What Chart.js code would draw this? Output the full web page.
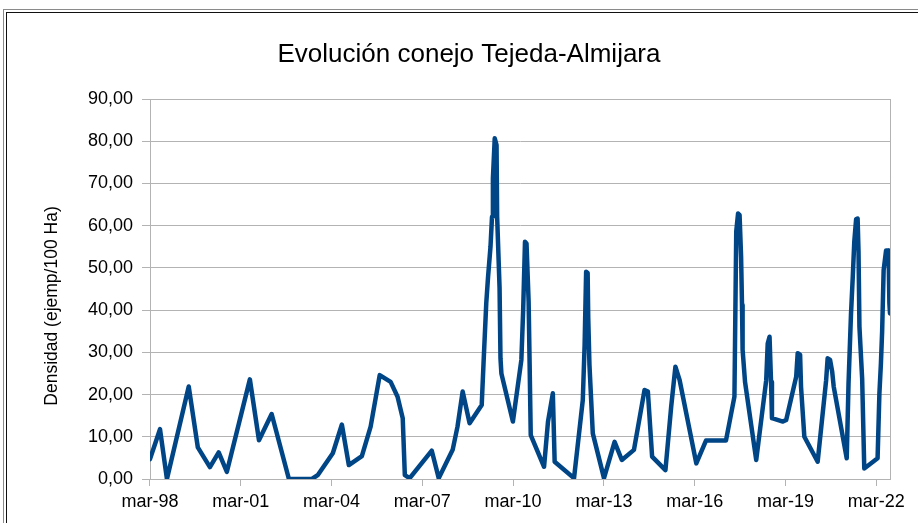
<!DOCTYPE html>
<html><head><meta charset="utf-8">
<script src="https://cdn.jsdelivr.net/npm/chart.js@4.4.1/dist/chart.umd.min.js"></script>
<style>
html,body{margin:0;padding:0;background:#fff;overflow:hidden}
#wrap{position:relative;width:918px;height:523px;overflow:hidden}
canvas{position:absolute;left:0;top:0}
.f1{position:absolute;left:3px;top:9px;width:1000px;height:1000px;border-left:1px solid #8a8a8a;border-top:1px solid #8a8a8a}
.f2{position:absolute;left:6px;top:12px;width:1000px;height:1000px;border-left:1px solid #111;border-top:1px solid #111}
</style></head><body>
<div id="wrap"><div class="f1"></div><div class="f2"></div><canvas id="c" width="918" height="523"></canvas></div>
<script>
const dates = [1998.17,1998.50,1998.73,1999.45,1999.75,2000.15,2000.44,2000.71,2001.47,2001.77,
2002.19,2002.76,2003.52,2003.71,2004.21,2004.51,2004.74,2005.17,2005.46,2005.76,
2006.12,2006.35,2006.52,2006.59,2006.75,2007.48,2007.71,2008.17,2008.33,2008.50,
2008.73,2009.13,2009.19,2009.28,2009.34,2009.42,2009.47,2009.50,2009.56,2009.62,
2009.64,2009.72,2009.75,2009.78,2010.16,2010.44,2010.50,2010.56,2010.61,2010.68,
2010.71,2010.75,2011.19,2011.32,2011.48,2011.54,2012.18,2012.47,2012.53,2012.58,
2012.63,2012.65,2012.69,2012.80,2013.17,2013.52,2013.76,2014.16,2014.51,2014.62,
2014.76,2015.20,2015.39,2015.53,2015.67,2016.22,2016.54,2017.20,2017.48,2017.54,
2017.60,2017.65,2017.70,2017.73,2017.75,2017.83,2018.20,2018.53,2018.58,2018.64,
2018.69,2018.72,2019.08,2019.19,2019.52,2019.57,2019.65,2019.68,2019.79,2020.23,
2020.51,2020.56,2020.64,2020.71,2020.76,2021.19,2021.25,2021.33,2021.39,2021.44,
2021.50,2021.55,2021.58,2021.61,2021.70,2021.77,2022.21,2022.27,2022.32,2022.36,
2022.41,2022.49,2022.56,2022.58,2022.60,2022.62];
const density = [4.7,11.8,0,21.9,7.5,2.8,6.3,1.7,23.6,9.2,
15.4,0,0,0.9,6.1,12.9,3.3,5.4,12.4,24.6,
23.0,19.5,14.4,0.9,0.2,6.7,0.2,6.9,12.4,20.7,
13.2,17.5,27.4,41.6,47.9,55.0,62.1,71.2,80.7,79.1,
62.1,45.2,28.6,25.0,13.6,28.2,40.0,56.2,55.8,42.0,
28.6,10.4,2.9,13.6,20.3,4.1,0.2,18.7,31.7,49.1,
48.8,38.1,27.0,10.8,0.2,8.8,4.5,6.9,21.1,20.7,
5.3,2.1,17.1,26.6,23.4,3.7,9.1,9.1,19.5,58.6,
62.9,62.5,52.6,41.2,30.6,23.0,4.5,23.4,32.1,33.7,
23.0,14.4,13.6,14.0,24.2,29.8,29.4,21.9,10.0,4.1,
23.4,28.6,28.2,25.4,21.9,4.9,22.7,38.8,47.9,56.2,
61.5,61.7,53.8,36.1,23.8,2.5,4.9,20.3,27.4,34.9,
49.5,54.1,54.1,50.3,41.6,39.2];
const xTickPositions = [1998.167,2001.167,2004.167,2007.167,2010.167,2013.167,2016.167,2019.167,2022.167];
const xTickLabels = ['mar-98','mar-01','mar-04','mar-07','mar-10','mar-13','mar-16','mar-19','mar-22'];
const yTickValues = [0,10,20,30,40,50,60,70,80,90];
const titleText = 'Evolución conejo Tejeda-Almijara';
const yTitle = 'Densidad (ejemp/100 Ha)';

const FONT = 'Liberation Sans';
const GRID = '#b3b3b3';

const decor = {
  id: 'decor',
  beforeDatasetsDraw(chart) {
    const {ctx, chartArea: a} = chart;
    ctx.save();
    ctx.strokeStyle = GRID;
    ctx.lineWidth = 1;
    ctx.strokeRect(Math.round(a.left) + 0.5, Math.round(a.top) + 0.5, Math.round(a.right - a.left), Math.round(a.bottom - a.top));
    ctx.restore();
  },
  afterDraw(chart) {
    const {ctx} = chart;
    ctx.save();
    ctx.fillStyle = '#000';
    ctx.font = '26px "' + FONT + '"';
    ctx.textAlign = 'center';
    ctx.textBaseline = 'alphabetic';
    ctx.fillText(titleText, 469, 62);
    ctx.translate(52, 306);
    ctx.rotate(-Math.PI / 2);
    ctx.font = '17.5px "' + FONT + '"';
    ctx.textBaseline = 'middle';
    ctx.fillText(yTitle, 0, 0);
    ctx.restore();
  }
};

new Chart(document.getElementById('c'), {
  type: 'line',
  data: {
    datasets: [{
      data: dates.map((d, i) => ({x: d, y: density[i]})),
      borderColor: '#004586',
      borderWidth: 4.5,
      pointRadius: 0,
      tension: 0,
      borderJoinStyle: 'round',
      borderCapStyle: 'round',
      fill: false
    }]
  },
  options: {
    responsive: false,
    animation: false,
    devicePixelRatio: 1,
    layout: {padding: {left: 0, right: 28, top: 99, bottom: 0}},
    plugins: {
      legend: {display: false},
      tooltip: {enabled: false},
      title: {display: false}
    },
    scales: {
      x: {
        type: 'linear',
        min: dates[0],
        max: dates[dates.length - 1],
        afterBuildTicks: s => { s.ticks = xTickPositions.map(v => ({value: v})); },
        afterFit: s => { s.height = 44; },
        ticks: {
          autoSkip: false, maxRotation: 0, minRotation: 0,
          callback: (v, i) => xTickLabels[i],
          color: '#000', padding: 5,
          font: {family: FONT, size: 18}
        },
        grid: {drawOnChartArea: false, drawTicks: true, tickLength: 7, color: GRID},
        border: {display: true, color: GRID}
      },
      y: {
        min: 0, max: 90,
        afterBuildTicks: s => { s.ticks = yTickValues.map(v => ({value: v})); },
        afterFit: s => { s.width = 150; },
        ticks: {
          callback: v => v.toFixed(2).replace('.', ','),
          color: '#000', padding: 9,
          font: {family: FONT, size: 18}
        },
        grid: {color: GRID, tickLength: 8, drawTicks: true},
        border: {display: true, color: GRID}
      }
    }
  },
  plugins: [decor]
});
</script>
</body></html>
